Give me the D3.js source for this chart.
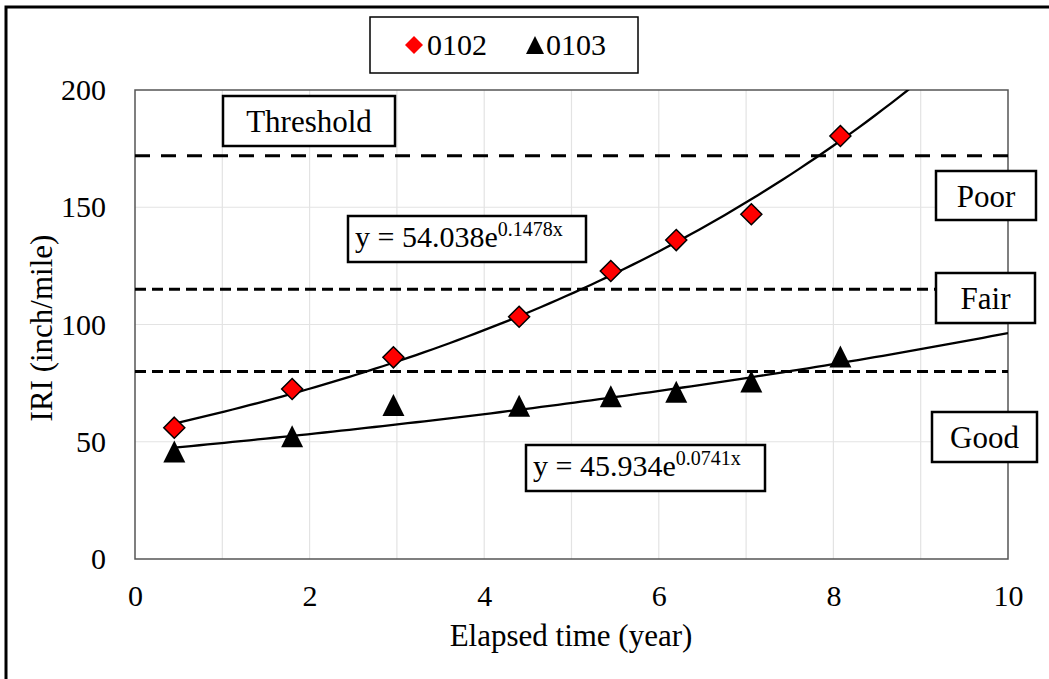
<!DOCTYPE html>
<html>
<head>
<meta charset="utf-8">
<script src="https://cdn.jsdelivr.net/npm/d3@7"></script>
<style>
body {
	margin: 0;
	background: white;
}
svg, svg text {
	font-family: "Liberation Serif", "DejaVu Serif", serif !important;
	fill: black;
}
</style>
</head>
<body>
<div id="chart"></div>
<script>

// -- data

var years0102 = [0.45, 1.8, 2.96, 4.4, 5.45, 6.2, 7.06, 8.08];
var iri0102 = [56, 72.5, 86, 103.3, 122.8, 136, 147, 180.4];

var years0103 = [0.45, 1.8, 2.96, 4.4, 5.45, 6.2, 7.06, 8.08];
var iri0103 = [45, 51.5, 64.8, 64.5, 68.5, 70.5, 74.8, 85.5];

// trendline coefficients, as printed on the chart: y = a * e^(b x)
var trend0102 = [54.038, 0.1478];
var trend0103 = [45.934, 0.0741];

// condition thresholds (dashed lines)
var levels = [172, 115, 80];

var xTicks = [0, 2, 4, 6, 8, 10];
var yTicks = [0, 50, 100, 150, 200];

// -- setup

var W = 1049, H = 679;
var margin = { top: 90, right: 41, bottom: 120, left: 135 },
	width = 1008 - margin.left,
	height = 559 - margin.top;

var svg = d3.select("#chart")
	.append("svg")
		.attr("width", W)
		.attr("height", H)
		.attr("font-family", "Liberation Serif");

// outer frame
svg.append("rect")
	.attr("x", 6)
	.attr("y", 7)
	.attr("width", W + 10)
	.attr("height", H + 10)
	.attr("fill", "none")
	.attr("stroke", "black")
	.attr("stroke-width", 3);

var g = svg.append("g")
	.attr("transform", "translate(" + margin.left + "," + margin.top + ")");

var x = d3.scaleLinear().domain([0, 10]).range([0, width]);
var y = d3.scaleLinear().domain([0, 200]).range([height, 0]);

// gridlines
g.append("g")
	.selectAll("line")
	.data(d3.range(1, 10))
	.enter()
	.append("line")
		.attr("x1", d => x(d)).attr("x2", d => x(d))
		.attr("y1", 0).attr("y2", height)
		.attr("stroke", "#e3e3e3")
		.attr("stroke-width", 1.2);

g.append("g")
	.selectAll("line")
	.data([50, 100, 150])
	.enter()
	.append("line")
		.attr("x1", 0).attr("x2", width)
		.attr("y1", d => y(d)).attr("y2", d => y(d))
		.attr("stroke", "#e3e3e3")
		.attr("stroke-width", 1.2);

// axes (labels only)
var xAxis = g.append("g")
	.attr("transform", "translate(0," + height + ")")
	.call(d3.axisBottom(x).tickValues(xTicks).tickSize(0).tickPadding(26));
xAxis.attr("font-family", "Liberation Serif").attr("font-size", 30);
xAxis.select(".domain").remove();

var yAxis = g.append("g")
	.call(d3.axisLeft(y).tickValues(yTicks).tickSize(0).tickPadding(29));
yAxis.attr("font-family", "Liberation Serif").attr("font-size", 30);
yAxis.select(".domain").remove();

// plot border
g.append("rect")
	.attr("width", width)
	.attr("height", height)
	.attr("fill", "none")
	.attr("stroke", "#555")
	.attr("stroke-width", 1.5);

// axis titles
svg.append("text")
	.attr("x", 571)
	.attr("y", 646)
	.attr("text-anchor", "middle")
	.style("font-size", "31px")
	.text("Elapsed time (year)");

svg.append("text")
	.attr("transform", "translate(52,328) rotate(-90)")
	.attr("text-anchor", "middle")
	.style("font-size", "31px")
	.text("IRI (inch/mile)");

// dashed threshold lines
g.selectAll(".level")
	.data(levels)
	.enter()
	.append("line")
		.attr("class", "level")
		.attr("x1", 0).attr("x2", width)
		.attr("y1", d => y(d)).attr("y2", d => y(d))
		.attr("stroke", "black")
		.attr("stroke-width", 3)
		.attr("stroke-dasharray", (d, i) => i == 0 ? "15,11" : "11,6");

// trendlines
g.append("clipPath")
	.attr("id", "clip")
	.append("rect")
		.attr("width", width)
		.attr("height", height);

var line = d3.line().x(d => x(d[0])).y(d => y(d[1]));

function trendPoints(xs, coef) {
	var x0 = d3.min(xs), x1 = 10;
	return d3.range(0, 101).map(function(i) {
		var t = x0 + (x1 - x0) * i / 100;
		return [t, coef[0] * Math.exp(coef[1] * t)];
	});
}

g.append("path")
	.attr("clip-path", "url(#clip)")
	.attr("d", line(trendPoints(years0102, trend0102)))
	.attr("fill", "none")
	.attr("stroke", "black")
	.attr("stroke-width", 2.3);

g.append("path")
	.attr("clip-path", "url(#clip)")
	.attr("d", line(trendPoints(years0103, trend0103)))
	.attr("fill", "none")
	.attr("stroke", "black")
	.attr("stroke-width", 2.3);

// markers
var diamond = "M0,-10.5L10.5,0L0,10.5L-10.5,0Z";
var triangle = "M0,-13L11,9L-11,9Z";

g.selectAll(".m0102")
	.data(d3.zip(years0102, iri0102))
	.enter()
	.append("path")
		.attr("class", "m0102")
		.attr("transform", d => "translate(" + x(d[0]) + "," + y(d[1]) + ")")
		.attr("d", diamond)
		.attr("fill", "#ff0000")
		.attr("stroke", "black")
		.attr("stroke-width", 1.5);

g.selectAll(".m0103")
	.data(d3.zip(years0103, iri0103))
	.enter()
	.append("path")
		.attr("class", "m0103")
		.attr("transform", d => "translate(" + x(d[0]) + "," + y(d[1]) + ")")
		.attr("d", triangle)
		.attr("fill", "black");

// -- annotation boxes

var boxes = [
	{ x: 223, y: 96, w: 172, h: 50, label: "Threshold" },
	{ x: 936, y: 171, w: 100, h: 49, label: "Poor" },
	{ x: 936, y: 273, w: 99, h: 50, label: "Fair" },
	{ x: 932, y: 412, w: 105, h: 50, label: "Good" },
];

var bx = svg.selectAll(".box")
	.data(boxes)
	.enter()
	.append("g")
		.attr("class", "box");
bx.append("rect")
	.attr("x", d => d.x).attr("y", d => d.y)
	.attr("width", d => d.w).attr("height", d => d.h)
	.attr("fill", "white")
	.attr("stroke", "black")
	.attr("stroke-width", 2.5);
bx.append("text")
	.attr("x", d => d.x + d.w / 2)
	.attr("y", d => d.y + d.h / 2 + 11)
	.attr("text-anchor", "middle")
	.style("font-size", "31px")
	.text(d => d.label);

// equations
function equation(bxX, bxY, bxW, bxH, coef) {
	svg.append("rect")
		.attr("x", bxX).attr("y", bxY)
		.attr("width", bxW).attr("height", bxH)
		.attr("fill", "white")
		.attr("stroke", "black")
		.attr("stroke-width", 2.5);
	var t = svg.append("text")
		.attr("x", bxX + 7)
		.attr("y", bxY + 31)
		.style("font-size", "30px");
	t.append("tspan").text("y = " + coef[0].toFixed(3) + "e");
	t.append("tspan")
		.attr("dy", -11)
		.style("font-size", "20px")
		.text(coef[1].toFixed(4) + "x");
}
equation(348, 216, 238, 46, trend0102);
equation(526, 445, 239, 46, trend0103);

// -- legend

svg.append("rect")
	.attr("x", 370).attr("y", 17)
	.attr("width", 268).attr("height", 56)
	.attr("fill", "white")
	.attr("stroke", "black")
	.attr("stroke-width", 1.5);

svg.append("path")
	.attr("transform", "translate(414,45)")
	.attr("d", "M0,-9L9,0L0,9L-9,0Z")
	.attr("fill", "#ff0000");
svg.append("text")
	.attr("x", 427).attr("y", 55)
	.style("font-size", "30px")
	.text("0102");

svg.append("path")
	.attr("transform", "translate(535,46)")
	.attr("d", "M0,-10L9,8L-9,8Z")
	.attr("fill", "black");
svg.append("text")
	.attr("x", 546).attr("y", 55)
	.style("font-size", "30px")
	.text("0103");

</script>
</body>
</html>
